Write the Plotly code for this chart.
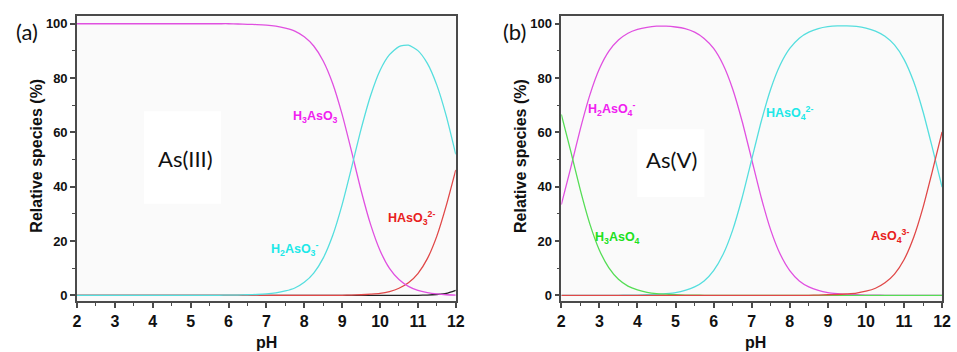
import plotly.graph_objects as go

W, H = 957, 352

ph = [2 + 0.25 * i for i in range(41)]

# ---- As(III) speciation (%) ----
h3aso3 = [100] * 17 + [99.9, 99.8, 99.7, 99.5, 99.1, 98.4, 97.3, 95.2, 91.8, 86.3, 78.0, 66.6,
                       52.9, 38.6, 26.1, 16.5, 9.9, 5.8, 3.3, 1.8, 1.0, 0.5, 0.2, 0.1]
h2aso3 = [0] * 16 + [0.1] + [0.1, 0.2, 0.3, 0.5, 0.9, 1.6, 2.7, 4.8, 8.2, 13.7, 22.0, 33.4,
                             47.1, 61.2, 73.5, 82.8, 88.6, 91.6, 92.1, 90.1, 85.4, 77.4, 66.0, 51.9]
haso3 = [0] * 17 + [0, 0, 0, 0, 0, 0, 0, 0, 0, 0, 0, 0,
                    0.1, 0.2, 0.4, 0.7, 1.4, 2.6, 4.6, 8.0, 13.5, 21.8, 33.1, 46.2]
aso3 = [0] * 37 + [0.1, 0.3, 0.7, 1.8]

# ---- As(V) speciation (%) ----
h3aso4 = [66.6, 52.9, 38.7, 26.2, 16.6, 10.1, 5.9, 3.4, 2.0, 1.1, 0.6, 0.4, 0.2, 0.1, 0.1, 0, 0] + [0] * 24
h2aso4 = [33.4, 47.1, 61.3, 73.8, 83.4, 89.9, 94.0, 96.5, 97.9, 98.7, 99.1, 99.1, 98.8, 98.2, 96.9, 94.6, 90.9,
          84.9, 76.0, 64.0, 50.0, 36.0, 24.0, 15.1, 9.1, 5.3, 3.1, 1.8, 1.0, 0.6, 0.3, 0.2, 0.1, 0.1,
          0, 0, 0, 0, 0, 0, 0]
haso4 = [0, 0, 0, 0, 0, 0, 0, 0.1, 0.1, 0.2, 0.3, 0.6, 1.0, 1.8, 3.1, 5.3, 9.1,
         15.1, 24.0, 36.0, 50.0, 64.0, 76.0, 84.9, 90.9, 94.7, 96.9, 98.2, 98.9, 99.2, 99.2, 99.0, 98.4, 97.3,
         95.4, 92.2, 86.9, 78.8, 67.6, 54.0, 39.8]
aso4 = [0] * 27 + [0.1, 0.2, 0.3, 0.5, 0.8, 1.5, 2.6, 4.6, 7.8, 13.1, 21.2, 32.4, 46.0, 60.2]

x_ticks = list(range(2, 13))
y_ticks = [0, 20, 40, 60, 80, 100]

C_MAG = "#e050e0"
C_CYAN = "#55dede"
C_RED = "#e04848"
C_GREEN = "#55dd55"
C_BLACK = "#222222"

fig = go.Figure()


def add(x, y, color, xa, ya):
    fig.add_trace(go.Scatter(x=x, y=y, mode="lines", xaxis=xa, yaxis=ya,
                             line=dict(color=color, width=1.3, shape="spline", smoothing=0.6),
                             showlegend=False, hoverinfo="skip"))


add(ph, aso3, C_BLACK, "x", "y")
add(ph, haso3, C_RED, "x", "y")
add(ph, h3aso3, C_MAG, "x", "y")
add(ph, h2aso3, C_CYAN, "x", "y")

add(ph, h2aso4, C_MAG, "x2", "y2")
add(ph, haso4, C_CYAN, "x2", "y2")
add(ph, h3aso4, C_GREEN, "x2", "y2")
add(ph, aso4, C_RED, "x2", "y2")

ydom = [1 - 303 / H, 1 - 16.5 / H]
axfont = dict(family="Liberation Sans, Arial", size=16, color="#111", weight="bold")
yfont = dict(family="Liberation Sans, Arial", size=13, color="#111", weight="bold")
LINE = "#4a4a4a"

xcommon = dict(range=[2, 12], tickvals=x_ticks, ticktext=[str(t) for t in x_ticks],
               ticks="outside", ticklen=5, tickwidth=1.5, tickcolor=LINE,
               minor=dict(dtick=0.5, ticks="outside", ticklen=3, tickwidth=1.2, tickcolor=LINE, showgrid=False),
               showline=True, linecolor=LINE, linewidth=1.6, mirror=True,
               showgrid=False, zeroline=False, tickfont=axfont)
ycommon = dict(range=[-2.2, 102.7], tickvals=y_ticks, ticktext=[str(t) for t in y_ticks],
               ticks="outside", ticklen=5, tickwidth=1.5, tickcolor=LINE,
               minor=dict(dtick=10, ticks="outside", ticklen=3, tickwidth=1.2, tickcolor=LINE, showgrid=False),
               showline=True, linecolor=LINE, linewidth=1.6, mirror=True,
               showgrid=False, zeroline=False, tickfont=yfont, domain=ydom)

fig.update_layout(
    width=W, height=H,
    margin=dict(l=0, r=0, t=0, b=0),
    paper_bgcolor="white",
    plot_bgcolor="#fafafa",
    xaxis=dict(domain=[74 / W, 458 / W], anchor="y", **xcommon),
    yaxis=dict(anchor="x", **ycommon),
    xaxis2=dict(domain=[565 / W, 951 / W], anchor="y2", **xcommon),
    yaxis2=dict(anchor="x2", **ycommon),
)

# white boxes behind As(III) / As(V)
fig.add_shape(type="rect", xref="paper", yref="paper", layer="below",
              x0=142 / W, x1=220 / W, y0=1 - 205 / H, y1=1 - 112 / H,
              fillcolor="white", line=dict(width=0))
fig.add_shape(type="rect", xref="paper", yref="paper", layer="below",
              x0=642 / W, x1=710 / W, y0=1 - 198 / H, y1=1 - 130 / H,
              fillcolor="white", line=dict(width=0))


def pann(text, px, py, size, family="Lato", weight="normal", color="#111", angle=0):
    fig.add_annotation(text=text, x=px / W, y=1 - py / H, xref="paper", yref="paper",
                       showarrow=False, textangle=angle, xanchor="center", yanchor="middle",
                       font=dict(family=family, size=size, color=color, weight=weight))


pann("(a)", 23, 32, 22)
pann("(b)", 518, 32, 22)
pann("As(III)", 184, 159, 22)
pann("As(V)", 677, 160, 22)
pann("Relative species (%)", 33, 157, 16, family="Liberation Sans, Arial", weight="bold", angle=-90)
pann("Relative species (%)", 523, 157, 16, family="Liberation Sans, Arial", weight="bold", angle=-90)
pann("pH", 266, 344, 16, family="Liberation Sans, Arial", weight="bold")
pann("pH", 762, 344, 16, family="Liberation Sans, Arial", weight="bold")


def dann(text, x, y, color, xr, yr):
    fig.add_annotation(text=text, x=x, y=y, xref=xr, yref=yr, showarrow=False,
                       xanchor="center", yanchor="middle",
                       font=dict(family="Liberation Sans, Arial", size=12.5, color=color, weight="bold"))


dann("H<sub>3</sub>AsO<sub>3</sub>", 8.3, 65.5, "#f020f0", "x", "y")
dann("H<sub>2</sub>AsO<sub>3</sub><sup>-</sup>", 7.75, 17, "#20e8e8", "x", "y")
dann("HAsO<sub>3</sub><sup>2-</sup>", 10.83, 28.5, "#e82020", "x", "y")

dann("H<sub>2</sub>AsO<sub>4</sub><sup>-</sup>", 3.32, 68.5, "#f020f0", "x2", "y2")
dann("HAsO<sub>4</sub><sup>2-</sup>", 7.98, 67, "#20e8e8", "x2", "y2")
dann("H<sub>3</sub>AsO<sub>4</sub>", 3.48, 21, "#20e020", "x2", "y2")
dann("AsO<sub>4</sub><sup>3-</sup>", 10.63, 22, "#e82020", "x2", "y2")

fig.write_html("out.html")
